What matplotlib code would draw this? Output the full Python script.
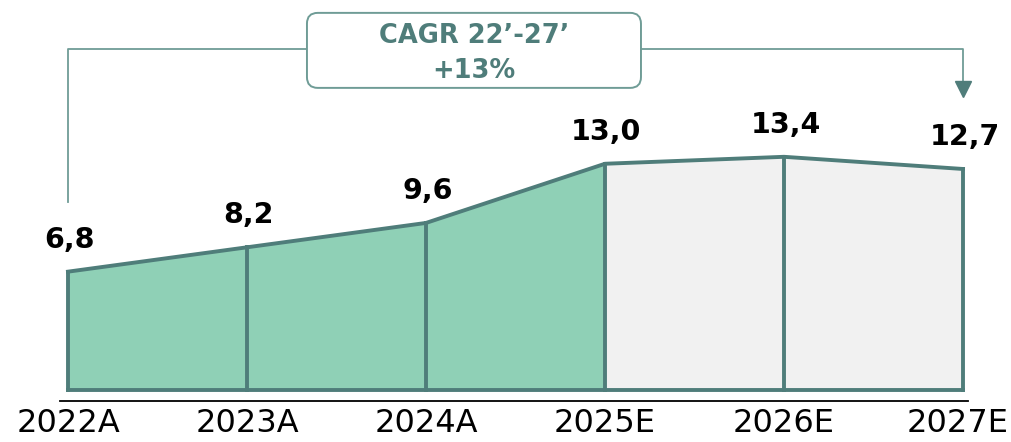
import matplotlib
matplotlib.use("Agg")
import matplotlib.pyplot as plt
from matplotlib.patches import FancyBboxPatch

categories = ["2022A", "2023A", "2024A", "2025E", "2026E", "2027E"]
values = [6.8, 8.2, 9.6, 13.0, 13.4, 12.7]
value_labels = ["6,8", "8,2", "9,6", "13,0", "13,4", "12,7"]
cagr_title = "CAGR 22’-27’"
cagr_value = "+13%"
n_actual = 4  # green area spans 2022A..2025E

LINE = "#4f7d7a"
GREEN = "#8fd0b6"
GREY = "#f1f1f1"
BRACKET = "#6f9c96"

fig = plt.figure(figsize=(10.11, 4.42), dpi=100)
ax = fig.add_axes([60/1011, 41/442, 908/1011, 401/442])
x = list(range(len(categories)))
ax.set_xlim(-0.0447, 5.028)
ax.set_ylim(-0.632, 22.41)

# filled areas
ax.fill_between(x[:n_actual], 0, values[:n_actual], color=GREEN, lw=0, zorder=1)
ax.fill_between(x[n_actual-1:], 0, values[n_actual-1:], color=GREY, lw=0, zorder=1)
# outline
ax.plot(x, values, color=LINE, lw=2.8, solid_joinstyle="miter", zorder=3)
ax.plot([x[0], x[-1]], [0, 0], color=LINE, lw=2.8, zorder=3)
for xi, v in zip(x, values):
    ax.plot([xi, xi], [0, v], color=LINE, lw=2.8, zorder=3, solid_capstyle="projecting")

# value labels
for xi, v, lab in zip(x, values, value_labels):
    ax.annotate(lab, (xi, v), xytext=(1, 23), textcoords="offset points",
                ha="center", va="center", fontsize=20.5, fontweight="bold",
                color="black", annotation_clip=False)

# axes styling
for s in ["top", "right", "left"]:
    ax.spines[s].set_visible(False)
ax.spines["bottom"].set_color("black")
ax.spines["bottom"].set_linewidth(1.3)
ax.set_yticks([])
ax.set_xticks([])
for i, (xi, cat) in enumerate(zip(x, categories)):
    dx = -4 if i == len(categories) - 1 else 0
    ax.annotate(cat, (xi, -0.632), xytext=(dx, -16), textcoords="offset points",
                ha="center", va="center", fontsize=23, color="black",
                annotation_clip=False)

# CAGR bracket
box_l, box_r = 1.335, 3.201
box_b, box_t = 17.36, 21.67
ytop = 19.6
ax.plot([x[0], x[0], box_l], [(390-202)/17.4, ytop, ytop], color=BRACKET, lw=1.3,
        clip_on=False, zorder=2)
ax.plot([box_r, x[-1], x[-1]], [ytop, ytop, (390-85)/17.4], color=BRACKET, lw=1.3,
        clip_on=False, zorder=2)
ax.plot([x[-1]], [(390-89)/17.4], marker="v", markersize=11, color=LINE,
        clip_on=False, zorder=2)

box = FancyBboxPatch((box_l, box_b), box_r - box_l, box_t - box_b,
                     boxstyle="round,pad=0,rounding_size=0.06",
                     mutation_aspect=179/17.4, facecolor="white", edgecolor=BRACKET,
                     lw=1.4, clip_on=False, zorder=4)
ax.add_patch(box)
bx = (box_l + box_r) / 2
ax.text(bx, (390-36)/17.4, cagr_title, ha="center", va="center", fontsize=18.5,
        fontweight="bold", color=LINE, zorder=5, clip_on=False)
ax.text(bx, (390-71)/17.4, cagr_value, ha="center", va="center", fontsize=18.5,
        fontweight="bold", color=LINE, zorder=5, clip_on=False)

fig.savefig("out.png", dpi=100)
